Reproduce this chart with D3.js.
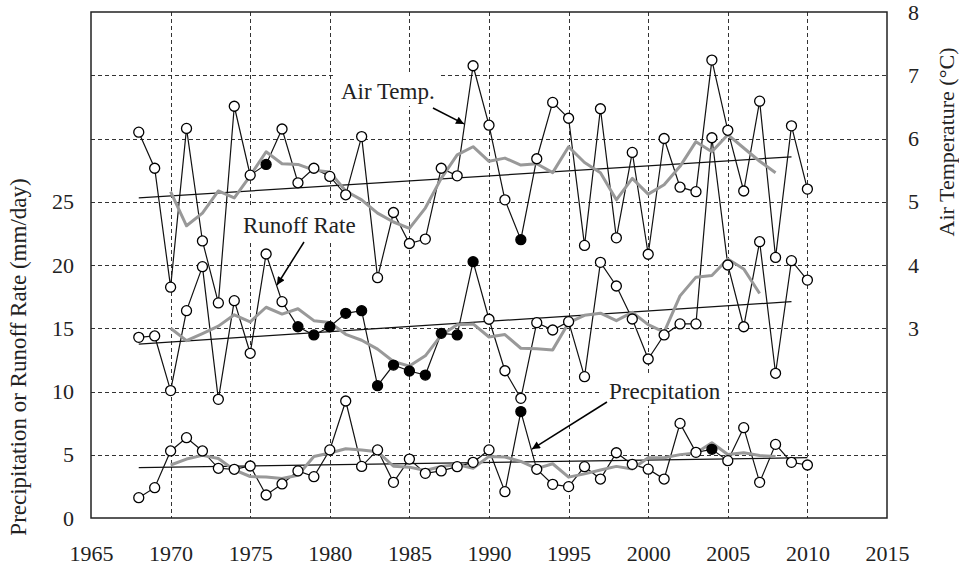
<!DOCTYPE html>
<html><head><meta charset="utf-8">
<script src="https://cdn.jsdelivr.net/npm/d3@7"></script>
<style>
body{margin:0;background:#fff}
svg{display:block}
text{font-family:"Liberation Serif","Times New Roman",serif;fill:#222}
</style>
</head><body>
<svg id="c" width="959" height="567"></svg>
<script>
// ---------------- data ----------------
const years = [1968,1969,1970,1971,1972,1973,1974,1975,1976,1977,1978,1979,1980,1981,1982,1983,1984,1985,1986,1987,1988,1989,1990,1991,1992,1993,1994,1995,1996,1997,1998,1999,2000,2001,2002,2003,2004,2005,2006,2007,2008,2009,2010];

// Air temperature (°C, right axis)
const airTemp = [6.10,5.53,3.65,6.16,4.38,3.40,6.51,5.42,5.59,6.15,5.30,5.53,5.40,5.11,6.03,3.80,4.83,4.34,4.41,5.53,5.41,7.15,6.21,5.03,4.40,5.68,6.57,6.32,4.31,6.47,4.43,5.78,4.17,6.00,5.23,5.16,7.24,6.13,5.17,6.59,4.12,6.20,5.20];
const airTempMA = [null,null,5.16,4.62,4.82,5.17,5.06,5.41,5.79,5.60,5.59,5.50,5.47,5.17,5.03,4.82,4.68,4.58,4.90,5.37,5.74,5.87,5.64,5.69,5.58,5.60,5.46,5.87,5.62,5.46,5.03,5.37,5.12,5.27,5.56,5.95,5.79,6.06,5.85,5.64,5.46,null,null];
const airTempTrend = [[1968,5.06],[2009,5.71]];
const airTempFilled = [1976,1992];

// Runoff rate (mm/day, left axis)
const runoff = [14.28,14.39,10.07,16.39,19.87,9.38,17.18,13.02,20.87,17.10,15.12,14.47,15.12,16.18,16.39,10.46,12.09,11.62,11.30,14.60,14.47,20.26,15.71,11.64,9.46,15.44,14.86,15.52,11.17,20.21,18.34,15.73,12.57,14.47,15.34,15.34,30.06,20.00,15.12,21.84,11.44,20.34,18.81];
const runoffMA = [null,null,15.00,14.02,14.58,15.17,16.06,15.51,16.66,16.12,16.54,15.60,15.46,14.52,14.05,13.35,12.37,12.01,12.82,14.45,15.27,15.34,14.31,14.50,13.42,13.38,13.29,15.44,16.02,16.19,15.60,16.26,15.29,14.69,17.56,19.04,19.17,20.47,19.69,17.75,null,null,null];
const runoffTrend = [[1968,13.75],[2009,17.10]];
const runoffFilled = [1978,1979,1980,1981,1982,1983,1984,1985,1986,1987,1988,1989];

// Precipitation (mm/day, left axis)
const precip = [1.61,2.40,5.30,6.35,5.30,3.93,3.85,4.11,1.82,2.69,3.72,3.27,5.38,9.25,4.08,5.38,2.82,4.66,3.53,3.72,4.06,4.40,5.38,2.08,8.41,3.85,2.66,2.48,4.06,3.08,5.16,4.24,3.86,3.08,7.48,5.19,5.43,4.53,7.14,2.82,5.82,4.40,4.19];
const precipMA = [null,null,4.19,4.66,4.95,4.71,3.80,3.28,3.24,3.12,3.38,4.86,5.14,5.47,5.38,5.24,4.09,4.02,3.76,4.07,4.22,3.93,4.87,4.82,4.48,3.90,4.29,3.23,3.49,3.80,4.08,3.88,4.76,4.77,5.01,5.14,5.95,5.02,5.15,4.94,4.87,null,null];
const precipTrend = [[1968,3.98],[2010,4.77]];
const precipFilled = [1992,2004];

// ticks / labels
const xTickLabels = [1965,1970,1975,1980,1985,1990,1995,2000,2005,2010,2015];
const xGrid = [1970,1975,1980,1985,1990,1995,2000,2005,2010];
const leftTickLabels = [0,5,10,15,20,25];
const leftGrid = [5,10,15,20,25,30,35];
const rightTickLabels = [3,4,5,6,7,8];
const leftTitle = "Precipitation or Runoff Rate (mm/day)";
const rightTitle = "Air Temperature (\u00B0C)";

// annotations: [label, labelYear, labelValue(left axis), arrow from [yr,val], arrow to [yr,val]]
const annotations = [
  {text:"Air Temp.", at:[1980.70,33.12], from:[1986.48,32.41], to:[1988.43,31.15]},
  {text:"Runoff Rate", at:[1974.55,22.53], from:[1978.38,21.82], to:[1976.68,18.42]},
  {text:"Precpitation", at:[1997.54,9.41], from:[1997.41,9.17], to:[1992.70,5.45]}
];

// ---------------- chart ----------------
const svg = d3.select("#c");
const L=91, R=887, T=12, B=518;
const x = d3.scaleLinear().domain([1965,2015]).range([L,R]);
const yL = d3.scaleLinear().domain([0,40]).range([B,T]);
const yR = d3.scaleLinear().domain([0,8]).range([B,T]);

svg.append("rect").attr("width",959).attr("height",567).attr("fill","#fff");

// grid
const grid = svg.append("g").attr("stroke","#333").attr("stroke-width",1).attr("stroke-dasharray","4,3").attr("fill","none");
grid.selectAll("line.v").data(xGrid).join("line").attr("class","v")
  .attr("x1",d=>Math.round(x(d))+0.5).attr("x2",d=>Math.round(x(d))+0.5).attr("y1",T).attr("y2",B);
grid.selectAll("line.h").data(leftGrid).join("line").attr("class","h")
  .attr("y1",d=>Math.round(yL(d))+0.5).attr("y2",d=>Math.round(yL(d))+0.5).attr("x1",L).attr("x2",R);

// annotation label boxes + text (boxes hide grid only)
const ann = svg.append("g");
annotations.forEach(a=>{
  const t = ann.append("text").attr("x",x(a.at[0])).attr("y",yL(a.at[1]))
    .attr("font-size",23).text(a.text);
  const bb = t.node().getBBox();
  ann.insert("rect","text").attr("x",bb.x-7).attr("y",bb.y-6).attr("width",bb.width+13).attr("height",bb.height+8).attr("fill","#fff");
});

// series
const series = [
  {v:airTemp, ma:airTempMA, tr:airTempTrend, filled:airTempFilled, y:yR},
  {v:runoff, ma:runoffMA, tr:runoffTrend, filled:runoffFilled, y:yL},
  {v:precip, ma:precipMA, tr:precipTrend, filled:precipFilled, y:yL}
];

const gTrend = svg.append("g"), gLine = svg.append("g"), gMA = svg.append("g"), gPts = svg.append("g");
series.forEach(s=>{
  const pts = years.map((yr,i)=>({yr, v:s.v[i], ma:s.ma[i]}));
  gTrend.append("path").datum(s.tr)
    .attr("d", d3.line().x(d=>x(d[0])).y(d=>s.y(d[1])))
    .attr("fill","none").attr("stroke","#111").attr("stroke-width",1.3);
  gLine.append("path").datum(pts)
    .attr("d", d3.line().x(d=>x(d.yr)).y(d=>s.y(d.v)))
    .attr("fill","none").attr("stroke","#111").attr("stroke-width",1.2);
  gMA.append("path").datum(pts)
    .attr("d", d3.line().defined(d=>d.ma!=null).x(d=>x(d.yr)).y(d=>s.y(d.ma)))
    .attr("fill","none").attr("stroke","#999").attr("stroke-width",3).attr("stroke-linejoin","round");
  gPts.selectAll(null).data(pts).join("circle")
    .attr("cx",d=>x(d.yr)).attr("cy",d=>s.y(d.v)).attr("r",5)
    .attr("fill",d=>s.filled.includes(d.yr)?"#000":"#fff")
    .attr("stroke","#000").attr("stroke-width",1.3);
});

// frame
svg.append("rect").attr("x",L).attr("y",T).attr("width",R-L).attr("height",B-T)
  .attr("fill","none").attr("stroke","#222").attr("stroke-width",1.5);

// axes
const fs = 22;
const ax = svg.append("g").attr("transform",`translate(0,${B})`)
  .call(d3.axisBottom(x).tickValues(xTickLabels).tickFormat(d3.format("d")).tickSize(0).tickPadding(27));
const al = svg.append("g").attr("transform",`translate(${L},0)`)
  .call(d3.axisLeft(yL).tickValues(leftTickLabels).tickFormat(d3.format("d")).tickSize(0).tickPadding(17));
const ar = svg.append("g").attr("transform",`translate(${R},0)`)
  .call(d3.axisRight(yR).tickValues(rightTickLabels).tickFormat(d3.format("d")).tickSize(0).tickPadding(21));
[ax,al,ar].forEach(g=>{
  g.select(".domain").remove();
  g.selectAll("text").attr("font-size",fs).attr("font-family",'"Liberation Serif","Times New Roman",serif').attr("fill","#222");
});

svg.append("text").attr("transform","translate(18,357) rotate(-90)")
  .attr("text-anchor","middle").attr("dominant-baseline","central").attr("font-size",23).text(leftTitle);
svg.append("text").attr("transform","translate(946,142) rotate(-90)")
  .attr("text-anchor","middle").attr("dominant-baseline","central").attr("font-size",22).text(rightTitle);

// arrows
svg.append("defs").append("marker").attr("id","ah").attr("viewBox","0 0 10 10")
  .attr("refX",10).attr("refY",5).attr("markerWidth",11).attr("markerHeight",8)
  .attr("markerUnits","userSpaceOnUse").attr("orient","auto")
  .append("path").attr("d","M0,0L10,5L0,10z").attr("fill","#000");
annotations.forEach(a=>{
  svg.append("line").attr("x1",x(a.from[0])).attr("y1",yL(a.from[1]))
    .attr("x2",x(a.to[0])).attr("y2",yL(a.to[1]))
    .attr("stroke","#000").attr("stroke-width",1.5).attr("marker-end","url(#ah)");
});
</script>
</body></html>
